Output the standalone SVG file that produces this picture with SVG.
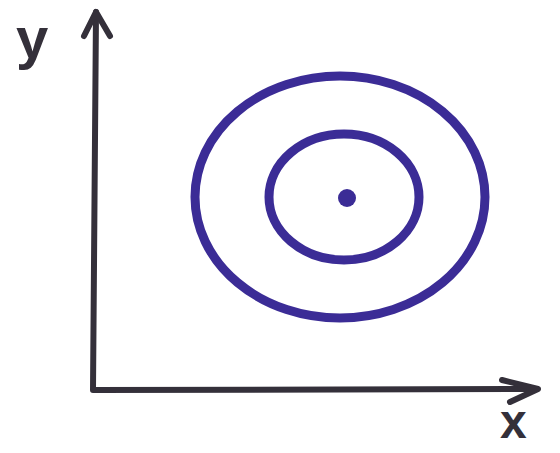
<svg xmlns="http://www.w3.org/2000/svg" width="560" height="453" viewBox="0 0 560 453">
<style>
.ax{fill:none;stroke:#34303a;stroke-width:6;stroke-linecap:round;stroke-linejoin:round}
.ring{fill:none;stroke:#3b2c96;stroke-width:9}
.lbl{font-family:"Liberation Sans","DejaVu Sans",sans-serif;font-weight:bold;fill:#34303a}
</style>
<rect width="560" height="453" fill="#ffffff"/>
<g id="connectors">
<path class="ax" d="M96,12 L93,390 L534,389"/>
<path class="ax" d="M84,36 L96,12 L110,36"/>
<path class="ax" d="M502,380 L538,389 L510,402"/>
</g>
<g id="y-label"><text class="lbl" x="16" y="58" font-size="58">y</text></g>
<g id="x-label"><text class="lbl" x="500" y="438" font-size="48">x</text></g>
<g id="outer"><ellipse class="ring" cx="340" cy="197" rx="145" ry="121"/></g>
<g id="inner"><ellipse class="ring" cx="344" cy="197" rx="75" ry="63" stroke-width="10"/></g>
<g id="center"><circle cx="347" cy="198" r="9" fill="#3b2c96"/></g>
</svg>
